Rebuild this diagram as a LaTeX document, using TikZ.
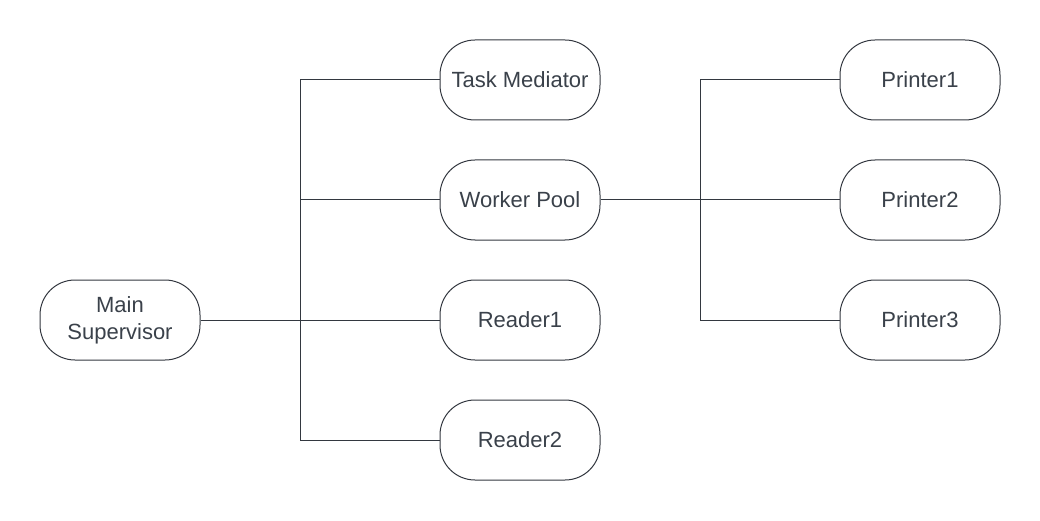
\documentclass[tikz,border=0pt]{standalone}
\usepackage{fontspec}
\setmainfont{Liberation Sans}
\definecolor{ink}{HTML}{333840}
\definecolor{txt}{HTML}{3A414A}
\begin{document}
\begin{tikzpicture}[x=1pt,y=-1pt,
  box/.style={draw=ink,line width=1pt,rounded corners=35pt,minimum width=160pt,minimum height=80pt,align=center,font=\fontsize{22}{27}\selectfont,text=txt,fill=white},
  conn/.style={draw=ink,line width=1pt}]
\useasboundingbox[fill=white] (0,0) rectangle (1040,521);
\coordinate (j1) at (300,320);
\coordinate (j1t) at (300,80);
\coordinate (j1b) at (300,440);
\coordinate (j2) at (700,200);
\coordinate (j2t) at (700,80);
\coordinate (j2b) at (700,320);
\draw[conn] (j1t) -- (j1b);
\draw[conn] (j2t) -- (j2b);
\node[box] (ms) at (120,320) {Main\\Supervisor};
\node[box] (tm) at (520,80) {Task Mediator};
\node[box] (wp) at (520,200) {Worker Pool};
\node[box] (r1) at (520,320) {Reader1};
\node[box] (r2) at (520,440) {Reader2};
\node[box] (p1) at (920,80) {Printer1};
\node[box] (p2) at (920,200) {Printer2};
\node[box] (p3) at (920,320) {Printer3};
\draw[conn] (ms.east) -- (r1.west);
\draw[conn] (j1t) -- (tm.west);
\draw[conn] (j1 |- wp.west) -- (wp.west);
\draw[conn] (j1b) -- (r2.west);
\draw[conn] (wp.east) -- (p2.west);
\draw[conn] (j2t) -- (p1.west);
\draw[conn] (j2b) -- (p3.west);
\end{tikzpicture}
\end{document}
